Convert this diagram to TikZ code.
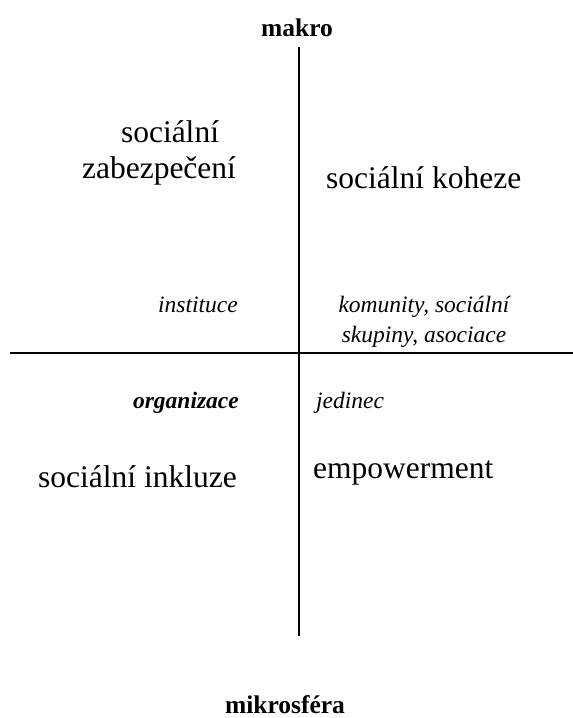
\documentclass[tikz,border=0pt]{standalone}
\usepackage{fontspec}
\setmainfont{Liberation Serif}
\begin{document}
\begin{tikzpicture}[x=1pt,y=-1pt,
  lbl/.style={inner sep=0pt},
  big/.style={lbl,font=\fontsize{31.5}{36}\selectfont},
  small/.style={lbl,font=\fontsize{23.5}{28}\selectfont\itshape},
  pole/.style={lbl,font=\fontsize{25.5}{30}\selectfont\bfseries},
  axis/.style={line width=2pt}]
\useasboundingbox (0,0) rectangle (573,718);
\coordinate (vt) at (299,47);
\coordinate (vb) at (299,636);
\coordinate (hl) at (10,353);
\coordinate (hr) at (573,353);
\draw[axis] (vt) -- (vb);
\draw[axis] (hl) -- (hr);
\node[pole,anchor=base] (makro) at (297,36) {makro};
\node[pole,anchor=base] (mikro) at (285,713) {mikrosféra};
\node[big,anchor=base] (soc1) at (170,142) {sociální};
\node[big,anchor=base] (zab) at (159,178) {zabezpečení};
\node[big,anchor=base west] (koh) at (326,188) {sociální koheze};
\node[small,anchor=base east] (inst) at (238,312) {instituce};
\node[small,anchor=base] (kom) at (424,312) {komunity, sociální};
\node[small,anchor=base] (sku) at (424,342) {skupiny, asociace};
\node[small,anchor=base east,font=\fontsize{23.5}{28}\selectfont\bfseries\itshape] (org) at (239,408) {organizace};
\node[small,anchor=base west] (jed) at (316,408) {jedinec};
\node[big,anchor=base west] (ink) at (38,487) {sociální inkluze};
\node[big,anchor=base west] (emp) at (313,478) {empowerment};
\end{tikzpicture}
\end{document}
